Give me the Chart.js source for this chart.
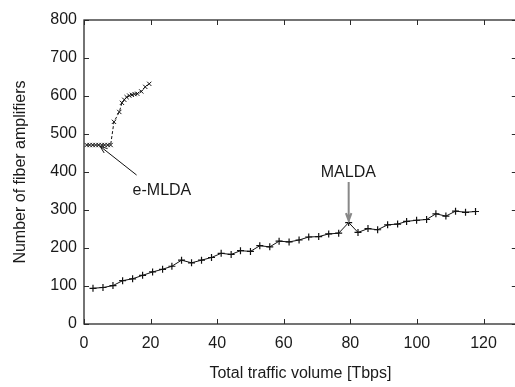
<!DOCTYPE html>
<html lang="en">
<head>
  <meta charset="UTF-8">
  <title>Fiber amplifiers vs traffic</title>
  <script src="https://cdn.jsdelivr.net/npm/chart.js"></script>
  <style>
    html, body { margin: 0; padding: 0; background: #fff; overflow: hidden; }
    #wrap { width: 522px; height: 387px; }
  </style>
</head>
<body>
  <div id="wrap"><canvas id="grafiku"></canvas></div>

  <script>
    // MALDA series
    const maldaX = [2.7, 5.7, 8.7, 11.6, 14.6, 17.6, 20.6, 23.6, 26.4, 29.3,
                    32.3, 35.3, 38.3, 41.2, 44.2, 47.0, 50.0, 52.8, 55.8, 58.6,
                    61.6, 64.6, 67.5, 70.5, 73.5, 76.5, 79.5, 82.3, 85.3, 88.2,
                    91.2, 94.2, 96.9, 99.9, 102.9, 105.7, 108.7, 111.6, 114.6, 117.6];
    const maldaY = [94, 96, 101, 114, 119, 128, 137, 144, 152, 168,
                    161, 168, 175, 186, 183, 193, 191, 206, 203, 218,
                    216, 221, 229, 230, 237, 239, 267, 241, 251, 248,
                    261, 263, 270, 273, 275, 290, 284, 297, 294, 296];

    // e-MLDA series
    const emldaX = [0.8, 1.7, 2.6, 3.5, 4.4, 5.3, 6.2, 7.1, 8.0, 9.0,
                    10.6, 11.4, 12.1, 12.8, 13.6, 14.4, 15.2, 16.0, 17.2, 18.4, 19.6];
    const emldaY = [471, 471, 471, 471, 471, 471, 471, 471, 471, 532,
                    558, 582, 590, 597, 601, 603, 605, 606, 612, 624, 632];

    const xTicks = [0, 20, 40, 60, 80, 100, 120];
    const yTicks = [0, 100, 200, 300, 400, 500, 600, 700, 800];

    const FONT = { family: "'Liberation Sans', Arial, sans-serif", size: 16 };
    const INK = '#1a1a1a';

    function pairs(xs, ys) {
      return xs.map((x, i) => ({ x: x, y: ys[i] }));
    }

    function arrow(ctx, x1, y1, x2, y2, color, width, head) {
      const a = Math.atan2(y2 - y1, x2 - x1);
      ctx.save();
      ctx.strokeStyle = color;
      ctx.lineWidth = width;
      ctx.beginPath();
      ctx.moveTo(x1, y1);
      ctx.lineTo(x2, y2);
      ctx.moveTo(x2 - head * Math.cos(a - 0.35), y2 - head * Math.sin(a - 0.35));
      ctx.lineTo(x2, y2);
      ctx.lineTo(x2 - head * Math.cos(a + 0.35), y2 - head * Math.sin(a + 0.35));
      ctx.stroke();
      ctx.restore();
    }

    // frame, inward ticks and the two labels with arrows
    const gnuplotLook = {
      id: 'gnuplotLook',
      afterDatasetsDraw(chart) {
        const ctx = chart.ctx;
        const a = chart.chartArea;
        const sx = chart.scales.x, sy = chart.scales.y;
        ctx.save();
        ctx.strokeStyle = '#2a2a2a';
        ctx.lineWidth = 1.3;
        ctx.strokeRect(a.left, a.top, a.right - a.left, a.bottom - a.top);
        ctx.lineWidth = 1;
        ctx.beginPath();
        xTicks.forEach(v => {
          const px = Math.round(sx.getPixelForValue(v)) + 0.5;
          ctx.moveTo(px, a.bottom); ctx.lineTo(px, a.bottom - 5);
          ctx.moveTo(px, a.top); ctx.lineTo(px, a.top + 5);
        });
        yTicks.forEach(v => {
          const py = Math.round(sy.getPixelForValue(v)) + 0.5;
          ctx.moveTo(a.left, py); ctx.lineTo(a.left + 5, py);
          ctx.moveTo(a.right, py); ctx.lineTo(a.right - 5, py);
        });
        ctx.stroke();

        ctx.font = FONT.size + 'px ' + FONT.family;
        ctx.fillStyle = INK;
        ctx.textBaseline = 'middle';
        ctx.textAlign = 'left';
        ctx.fillText('e-MLDA', sx.getPixelForValue(14.6), sy.getPixelForValue(350));
        arrow(ctx, sx.getPixelForValue(15.8), sy.getPixelForValue(392),
              sx.getPixelForValue(4.8), sy.getPixelForValue(468), '#111', 1, 8);

        ctx.textAlign = 'center';
        ctx.fillText('MALDA', sx.getPixelForValue(79.4), sy.getPixelForValue(398));
        arrow(ctx, sx.getPixelForValue(79.5), sy.getPixelForValue(374),
              sx.getPixelForValue(79.5), sy.getPixelForValue(272), '#888', 2, 8);
        ctx.restore();
      }
    };

    new Chart(document.getElementById('grafiku'), {
      type: 'scatter',
      data: {
        datasets: [
          {
            label: 'e-MLDA',
            data: pairs(emldaX, emldaY),
            showLine: true,
            borderColor: '#111',
            borderWidth: 1,
            borderDash: [3, 2],
            pointStyle: 'crossRot',
            pointRadius: 3,
            pointBorderColor: '#111',
            pointBorderWidth: 1
          },
          {
            label: 'MALDA',
            data: pairs(maldaX, maldaY),
            showLine: true,
            borderColor: '#111',
            borderWidth: 1,
            pointStyle: 'cross',
            pointRadius: 3.5,
            pointBorderColor: '#111',
            pointBorderWidth: 1.2
          }
        ]
      },
      options: {
        responsive: true,
        maintainAspectRatio: false,
        animation: false,
        layout: { padding: { top: 20, right: 2.5, bottom: 4, left: 0 } },
        plugins: { legend: { display: false }, tooltip: { enabled: false } },
        scales: {
          x: {
            type: 'linear',
            min: 0, max: 130,
            border: { display: false },
            grid: { display: false, drawTicks: false },
            afterBuildTicks: s => { s.ticks = xTicks.map(v => ({ value: v })); },
            afterFit: s => { s.height = 59; },
            ticks: { color: INK, font: FONT, padding: 10, maxRotation: 0 },
            title: { display: true, text: 'Total traffic volume [Tbps]', color: INK, font: FONT, padding: { top: 0, bottom: 0 } }
          },
          y: {
            type: 'linear',
            min: 0, max: 800,
            border: { display: false },
            grid: { display: false, drawTicks: false },
            afterBuildTicks: s => { s.ticks = yTicks.map(v => ({ value: v })); },
            afterFit: s => { s.width = 84; },
            ticks: { color: INK, font: FONT, padding: 7 },
            title: { display: true, text: 'Number of fiber amplifiers', color: INK, font: FONT, padding: { top: 11, bottom: 0 } }
          }
        }
      },
      plugins: [gnuplotLook]
    });
  </script>
</body>
</html>
